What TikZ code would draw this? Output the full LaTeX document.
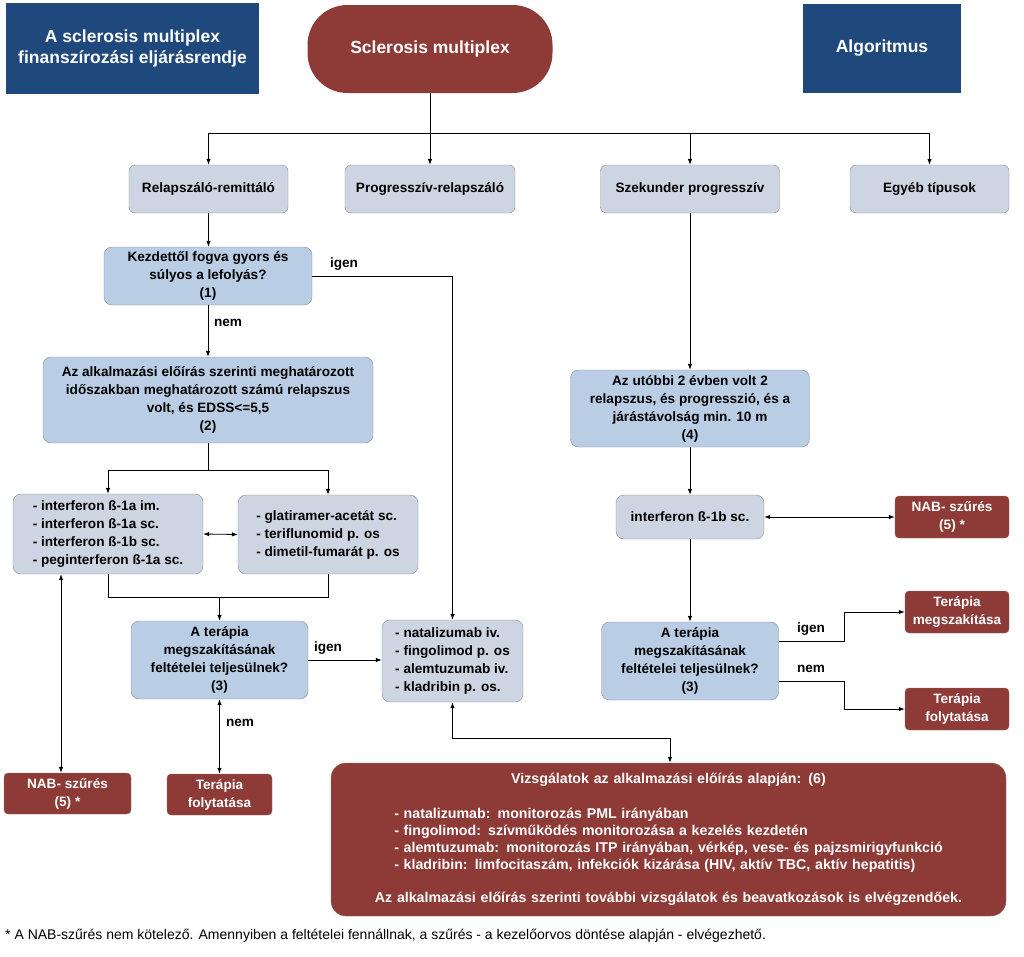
\documentclass[tikz,border=0pt]{standalone}
\usepackage{fontspec}
\setmainfont{Liberation Sans}
\usetikzlibrary{arrows.meta,calc}
\definecolor{dblue}{HTML}{1F497D}
\definecolor{dred}{HTML}{8E3B38}
\definecolor{lblue}{HTML}{B9CDE5}
\definecolor{lgray}{HTML}{CDD5E2}
\definecolor{bordergray}{HTML}{8C8C8C}
\tikzset{
  every node/.style={font=\fontsize{13.6}{18}\selectfont\bfseries},
  titlebox/.style={fill=dblue, text=white, draw=none, align=center, font=\fontsize{17.5}{21}\selectfont\bfseries},
  mainbox/.style={fill=dred, text=white, draw=none, rounded corners=40pt, align=center, font=\fontsize{17.5}{21}\selectfont\bfseries},
  typebox/.style={fill=lgray, draw=bordergray, rounded corners=6pt, align=center},
  qbox/.style={fill=lblue, draw=bordergray, rounded corners=8pt, align=center},
  listbox/.style={fill=lgray, draw=bordergray, rounded corners=8pt, align=left},
  redbox/.style={fill=dred, text=white, draw=bordergray!60!dred, rounded corners=4pt, align=center},
  lbl/.style={inner sep=0pt},
  conn/.style={draw=black, line width=0.8pt},
  arr/.style={conn, -{Latex[length=6pt,width=4.5pt]}},
  darr/.style={conn, {Latex[length=6pt,width=4.5pt]}-{Latex[length=6pt,width=4.5pt]}},
}
\begin{document}
\begin{tikzpicture}[x=1pt,y=-1pt]
\useasboundingbox (0,0) rectangle (1024,956);
% titles
\node[titlebox, minimum width=253pt, minimum height=91pt] (ttl) at (132.5,48.5) {A sclerosis multiplex\\finanszírozási eljárásrendje};
\node[mainbox, minimum width=245pt, minimum height=88pt] (sm) at (430,49) {Sclerosis multiplex};
\node[titlebox, minimum width=158pt, minimum height=89pt] (alg) at (882,48.5) {Algoritmus};
% types
\node[typebox, minimum width=159pt, minimum height=48pt] (rr) at (208.5,189) {Relapszáló-remittáló};
\node[typebox, minimum width=170pt, minimum height=48pt] (pr) at (430,189) {Progresszív-relapszáló};
\node[typebox, minimum width=179pt, minimum height=48pt] (sp) at (690,189) {Szekunder progresszív};
\node[typebox, minimum width=159pt, minimum height=48pt] (eg) at (929.5,189) {Egyéb típusok};
% left column
\node[qbox, minimum width=208pt, minimum height=58pt] (q1) at (208,276) {Kezdettől fogva gyors és\\súlyos a lefolyás?\\(1)};
\node[qbox, minimum width=330pt, minimum height=86pt] (q2) at (208,400) {Az alkalmazási előírás szerinti meghatározott\\időszakban meghatározott számú relapszus\\volt, és EDSS<=5,5\\(2)};
\node[listbox, minimum width=190pt, minimum height=80pt] (ifn) at (108,534) {- interferon ß-1a im.\\- interferon ß-1a sc.\\- interferon ß-1b sc.\\- peginterferon ß-1a sc.};
\node[listbox, minimum width=180pt, minimum height=79pt] (gla) at (328,534.5) {- glatiramer-acetát sc.\\- teriflunomid p. os\\- dimetil-fumarát p. os};
\node[qbox, minimum width=177pt, minimum height=78pt] (q3) at (219.5,660) {A terápia\\megszakításának\\feltételei teljesülnek?\\(3)};
\node[listbox, minimum width=141pt, minimum height=82pt] (nat) at (452.5,661) {- natalizumab iv.\\- fingolimod p. os\\- alemtuzumab iv.\\- kladribin p. os.};
\node[redbox, minimum width=127pt, minimum height=41pt] (nab1) at (67.5,793.5) {NAB- szűrés\\(5) *};
\node[redbox, minimum width=105pt, minimum height=41pt] (tf1) at (219.5,794.5) {Terápia\\folytatása};
% right column
\node[qbox, minimum width=239pt, minimum height=77pt] (q4) at (690,408.5) {Az utóbbi 2 évben volt 2\\relapszus, és progresszió, és a\\járástávolság min. 10 m\\(4)};
\node[typebox, rounded corners=8pt, minimum width=148pt, minimum height=44pt] (ifb) at (690,517) {interferon ß-1b sc.};
\node[redbox, minimum width=114pt, minimum height=42pt] (nab2) at (952,517) {NAB- szűrés\\(5) *};
\node[qbox, minimum width=177pt, minimum height=78pt] (q3r) at (690,661) {A terápia\\megszakításának\\feltételei teljesülnek?\\(3)};
\node[redbox, inner sep=1pt, minimum width=104pt, minimum height=42pt] (tm) at (957,612) {Terápia\\megszakítása};
\node[redbox, minimum width=104pt, minimum height=42pt] (tf2) at (957,709) {Terápia\\folytatása};
% big box
\node[redbox, rounded corners=15pt, minimum width=675pt, minimum height=153pt, text width=655pt, align=center, font=\fontsize{14.2}{17}\selectfont\bfseries] (big) at (668.5,839.5) {Vizsgálatok az alkalmazási előírás alapján: (6)\\[19pt]
\begin{tabular}{@{}l@{}}
- natalizumab: monitorozás PML irányában\\
- fingolimod: szívműködés monitorozása a kezelés kezdetén\\
- alemtuzumab: monitorozás ITP irányában, vérkép, vese- és pajzsmirigyfunkció\\
- kladribin: limfocitaszám, infekciók kizárása (HIV, aktív TBC, aktív hepatitis)
\end{tabular}\\[17pt]
Az alkalmazási előírás szerinti további vizsgálatok és beavatkozások is elvégzendőek.};
% footnote
\node[anchor=west, inner sep=0pt, font=\fontsize{14}{16}\selectfont] (fn) at (5,936) {* A NAB-szűrés nem kötelező. Amennyiben a feltételei fennállnak, a szűrés - a kezelőorvos döntése alapján - elvégezhető.};
% helper coordinates
\coordinate (hb) at (430,133);
\coordinate (j2) at (208,470);
\coordinate (j3) at (219.5,597);
\coordinate (j4) at (670,738);
\coordinate (x61) at (61,0);
\coordinate (x670) at (670,0);
\coordinate (x844) at (844,0);
% connectors
\draw[conn] (sm.south) -- (hb);
\draw[arr] (hb) -| (rr.north);
\draw[arr] (hb) -- (pr.north);
\draw[arr] (hb) -| (sp.north);
\draw[arr] (sp.north |- hb) -| (eg.north);
\draw[arr] (rr.south) -- (rr.south |- q1.north);
\draw[arr] (q1.east) -| (nat.north);
\draw[arr] (q1.south) -- (q2.north);
\draw[conn] (q2.south) -- (j2);
\draw[arr] (j2) -| (ifn.north);
\draw[arr] (j2) -| (gla.north);
\draw[darr] (ifn.east) -- (gla.west);
\draw[conn] (ifn.south) |- (j3);
\draw[conn] (gla.south) |- (j3);
\draw[arr] (j3) -- (q3.north);
\draw[arr] (q3.east) -- (q3.east -| nat.west);
\draw[darr] (x61 |- ifn.south) -- (x61 |- nab1.north);
\draw[darr] (q3.south) -- (tf1.north);
\draw[darr] (nat.south) |- (j4) -- (x670 |- big.north);
\draw[arr] (sp.south) -- (q4.north);
\draw[arr] (q4.south) -- (ifb.north);
\draw[darr] (ifb.east) -- (nab2.west);
\draw[arr] (ifb.south) -- (q3r.north);
\draw[arr] ($(q3r.east)+(0,-20)$) -| (x844 |- tm.west) -- (tm.west);
\draw[arr] ($(q3r.east)+(0,20)$) -| (x844 |- tf2.west) -- (tf2.west);
% labels
\node[lbl] (l1) at (344,264) {igen};
\node[lbl] (l2) at (228,323) {nem};
\node[lbl] (l3) at (328,648) {igen};
\node[lbl] (l4) at (240,723) {nem};
\node[lbl] (l5) at (811,629) {igen};
\node[lbl] (l6) at (811,669) {nem};
\end{tikzpicture}
\end{document}
